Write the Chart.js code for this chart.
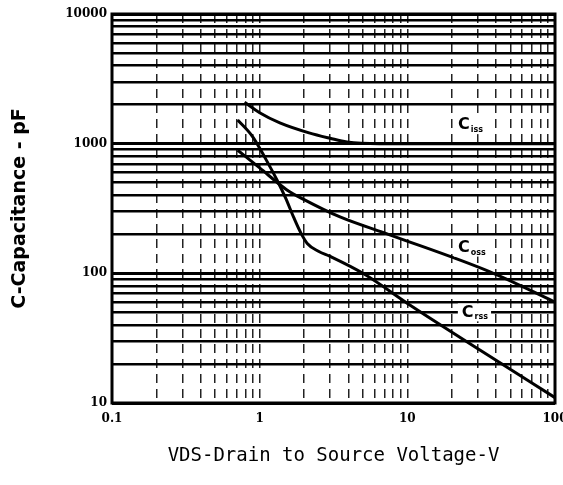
<!DOCTYPE html>
<html>
<head>
<meta charset="utf-8">
<script src="https://cdn.jsdelivr.net/npm/chart.js@4/dist/chart.umd.min.js"></script>
<style>
  html, body { margin: 0; padding: 0; background: #fff; }
</style>
</head>
<body>
<canvas id="capChart" width="563" height="485"></canvas>
<script>
// VDS (V) vs capacitance (pF)
const cissV = [0.79, 1.0, 1.37, 2.16, 3.0, 3.9, 6.5, 20, 100];
const cissC = [2090, 1730, 1445, 1210, 1100, 1030, 1000, 1000, 1000];
const cossV = [0.71, 1.0, 1.53, 2.0, 3.5, 7.6, 36, 100];
const cossC = [890, 650, 440, 370, 272, 198, 103, 60];
const crssV = [0.71, 0.9, 1.1, 1.31, 1.5, 1.7, 1.9, 2.1, 2.5, 3.0, 5.0, 10.9, 31, 100];
const crssC = [1525, 1125, 760, 525, 380, 270, 205, 170, 148, 135, 100, 55, 25.6, 11];

// grid positions and the ones that get a label
const xTicks = [0.1, 0.2, 0.3, 0.4, 0.5, 0.6, 0.7, 0.8, 0.9,
                1, 2, 3, 4, 5, 6, 7, 8, 9,
                10, 20, 30, 40, 50, 60, 70, 80, 90, 100];
const xLabels = [0.1, 1, 10, 100];
const yTicks = [10, 20, 30, 40, 50, 60, 70, 80, 90,
                100, 200, 300, 400, 500, 600, 700, 800, 900,
                1000, 2000, 3000, 4000, 5000, 6000, 7000, 8000, 9000, 10000];
const yLabels = [10, 100, 1000, 10000];

// curve captions, anchored in data coordinates
const curveLabels = [
    { main: 'C', sub: 'iss', x: 22, y: 1390 },
    { main: 'C', sub: 'oss', x: 22, y: 158 },
    { main: 'C', sub: 'rss', x: 23.4, y: 50 }
];

const toPoints = (xs, ys) => xs.map((v, i) => ({ x: v, y: ys[i] }));

const tickFont = { family: 'DejaVu Serif', weight: 'bold', size: 12 };

const frameAndLabels = {
    id: 'frameAndLabels',
    beforeDatasetsDraw(chart) {
        const { ctx, chartArea: a } = chart;
        ctx.save();
        ctx.strokeStyle = '#000';
        ctx.lineWidth = 3;
        ctx.strokeRect(a.left, a.top, a.right - a.left, a.bottom - a.top);
        ctx.restore();
    },
    afterDatasetsDraw(chart) {
        const { ctx, scales } = chart;
        ctx.save();
        curveLabels.forEach(lbl => {
            const px = scales.x.getPixelForValue(lbl.x);
            const py = scales.y.getPixelForValue(lbl.y);
            ctx.font = 'bold 16px "DejaVu Sans"';
            const w1 = ctx.measureText(lbl.main).width;
            ctx.font = 'bold 8px "DejaVu Sans"';
            const w2 = ctx.measureText(lbl.sub).width;
            ctx.fillStyle = '#fff';
            ctx.fillRect(px - 4, py - 9, w1 + w2 + 8, 18);
            ctx.fillStyle = '#000';
            ctx.textBaseline = 'middle';
            ctx.font = 'bold 16px "DejaVu Sans"';
            ctx.fillText(lbl.main, px, py);
            ctx.font = 'bold 8px "DejaVu Sans"';
            ctx.fillText(lbl.sub, px + w1 + 1, py + 5);
        });
        ctx.restore();
    }
};

const lineStyle = {
    borderColor: '#000',
    borderWidth: 3,
    pointRadius: 0,
    fill: false,
    cubicInterpolationMode: 'monotone'
};

new Chart(document.getElementById('capChart'), {
    type: 'line',
    data: {
        datasets: [
            { label: 'Ciss', data: toPoints(cissV, cissC), ...lineStyle },
            { label: 'Coss', data: toPoints(cossV, cossC), ...lineStyle },
            { label: 'Crss', data: toPoints(crssV, crssC), ...lineStyle }
        ]
    },
    options: {
        responsive: false,
        animation: false,
        devicePixelRatio: 1,
        layout: { padding: { top: 14, right: 8, left: 0, bottom: 0 } },
        plugins: {
            legend: { display: false },
            tooltip: { enabled: false }
        },
        scales: {
            x: {
                type: 'logarithmic',
                min: 0.1,
                max: 100,
                afterBuildTicks: axis => { axis.ticks = xTicks.map(v => ({ value: v })); },
                afterFit: axis => {
                    axis.height = 82;
                    axis.paddingLeft = 0;
                    axis.paddingRight = 0;
                },
                grid: { color: '#222', lineWidth: 1.5, drawTicks: false },
                border: { display: false, dash: [9, 6] },
                ticks: {
                    autoSkip: false,
                    maxRotation: 0,
                    padding: 9,
                    color: '#000',
                    font: tickFont,
                    callback: v => xLabels.includes(v) ? String(v) : ''
                },
                title: {
                    display: true,
                    text: 'VDS-Drain to Source Voltage-V',
                    color: '#000',
                    font: { family: 'DejaVu Sans Mono', size: 19 },
                    padding: { top: 0, bottom: 18 }
                }
            },
            y: {
                type: 'logarithmic',
                min: 10,
                max: 10000,
                afterBuildTicks: axis => { axis.ticks = yTicks.map(v => ({ value: v })); },
                afterFit: axis => { axis.width = 112; },
                grid: {
                    color: '#000',
                    lineWidth: c => yLabels.includes(c.tick && c.tick.value) ? 3 : 2.5,
                    drawTicks: false
                },
                border: { display: false },
                ticks: {
                    autoSkip: false,
                    padding: 5,
                    color: '#000',
                    font: tickFont,
                    callback: v => yLabels.includes(v) ? String(v) : ''
                },
                title: {
                    display: true,
                    text: 'C-Capacitance - pF',
                    color: '#000',
                    font: { family: 'DejaVu Sans', weight: 'bold', size: 19 },
                    padding: { top: 9, bottom: 0 }
                }
            }
        }
    },
    plugins: [frameAndLabels]
});
</script>
</body>
</html>
